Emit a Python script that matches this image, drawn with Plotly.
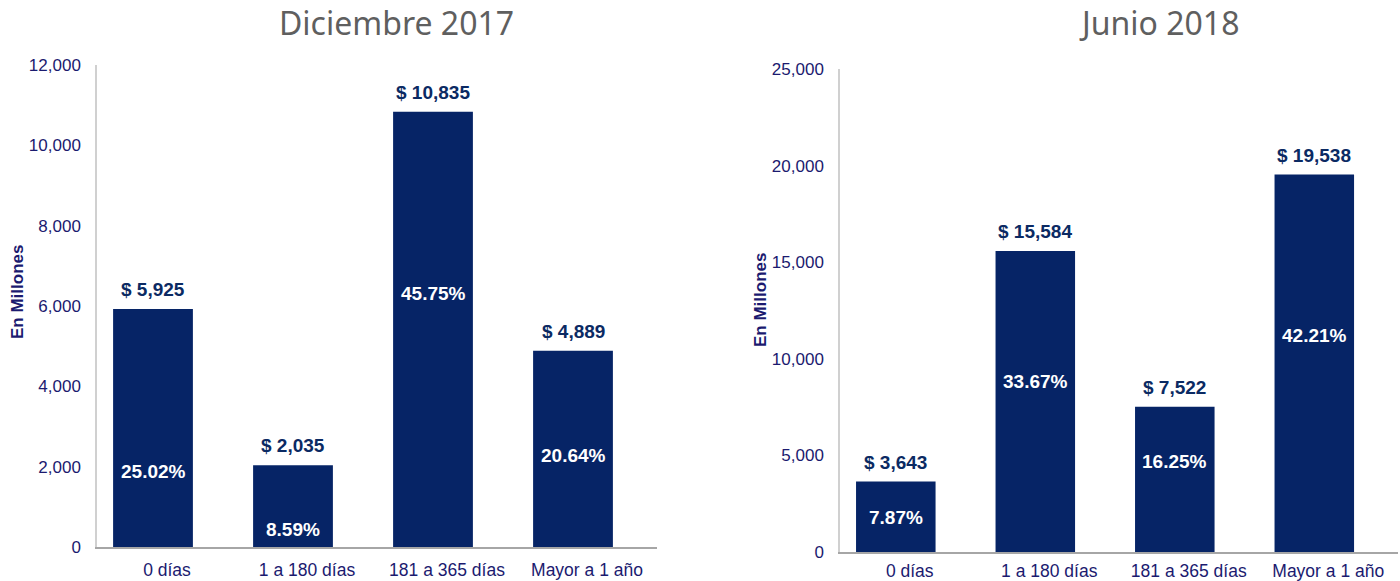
import plotly.graph_objects as go

categories = ["0 días", "1 a 180 días", "181 a 365 días", "Mayor a 1 año"]
dic2017_values = [5925, 2035, 10835, 4889]
dic2017_pct = ["25.02%", "8.59%", "45.75%", "20.64%"]
jun2018_values = [3643, 15584, 7522, 19538]
jun2018_pct = ["7.87%", "33.67%", "16.25%", "42.21%"]
titles = ["Diciembre 2017", "Junio 2018"]
y_title = "En Millones"

# label placement (data units) for the percentage labels inside bars
dic2017_pct_y = [1870, 430, 6300, 2290]
jun2018_pct_y = [1810, 8850, 4710, 11230]

W, H = 1400, 581
BAR = "#062466"
NAVY = "#1b1a6f"
LBL = "#0b2a63"
FONT = "Liberation Sans, Arial"

def px_x(x):
    return x / W

def px_y(y):
    return 1 - y / H

fig = go.Figure()

panels = [
    dict(vals=dic2017_values, pct=dic2017_pct, pcty=dic2017_pct_y, xa="x", ya="y",
         xdom=[97, 657], ydom=[547, 65], rng=[0, 12000], dtick=2000, xticklen=6,
         title_x=396, ytitle_x=17, ytitle_y=292),
    dict(vals=jun2018_values, pct=jun2018_pct, pcty=jun2018_pct_y, xa="x2", ya="y2",
         xdom=[840, 1398], ydom=[552, 69], rng=[0, 25000], dtick=5000, xticklen=2,
         title_x=1159, ytitle_x=760, ytitle_y=300),
]

annotations = []
for i, p in enumerate(panels):
    width = 0.57
    fig.add_trace(go.Bar(
        x=categories, y=p["vals"], xaxis=p["xa"], yaxis=p["ya"],
        marker=dict(color=BAR, line=dict(width=0)),
        width=width, offset=-width / 2 - 0.1,
        showlegend=False, hoverinfo="x+y",
    ))
    xref = p["xa"]
    yref = p["ya"]
    for j, c in enumerate(categories):
        annotations.append(dict(
            x=j - 0.1, y=p["vals"][j], xref=xref, yref=yref,
            text=f"$ {p['vals'][j]:,}", showarrow=False,
            yanchor="bottom", yshift=7,
            font=dict(family=FONT, size=19, color=LBL, weight="bold"),
        ))
        annotations.append(dict(
            x=j - 0.1, y=p["pcty"][j], xref=xref, yref=yref,
            text=p["pct"][j], showarrow=False,
            font=dict(family=FONT, size=19, color="white", weight="bold"),
        ))
    annotations.append(dict(
        x=px_x(p["title_x"]), y=px_y(23), xref="paper", yref="paper",
        text=titles[i], showarrow=False, xanchor="center", yanchor="middle",
        font=dict(family="Noto Sans", size=32, color="#5f5f5f"),
    ))
    annotations.append(dict(
        x=px_x(p["ytitle_x"]), y=px_y(p["ytitle_y"]), xref="paper", yref="paper",
        text=y_title, showarrow=False, textangle=-90, xanchor="center", yanchor="middle",
        font=dict(family=FONT, size=17, color=NAVY, weight="bold"),
    ))

xaxis_common = dict(
    type="category", range=[-0.5, 3.5], showline=True, linecolor="#a6a6a6", linewidth=1.5,
    ticks="outside", tickcolor="rgba(0,0,0,0)", showgrid=False,
    tickfont=dict(family=FONT, size=17.5, color=NAVY),
    fixedrange=True, automargin=False,
)
yaxis_common = dict(
    showline=True, linecolor="#d0d0d0", linewidth=1.5, showgrid=False, zeroline=False,
    ticks="outside", ticklen=11, tickcolor="rgba(0,0,0,0)", tickformat=",",
    tickfont=dict(family=FONT, size=17, color=NAVY),
    fixedrange=True, automargin=False,
)

p0, p1 = panels
fig.update_layout(
    width=W, height=H, margin=dict(l=0, r=0, t=0, b=0, autoexpand=False),
    paper_bgcolor="white", plot_bgcolor="white",
    xaxis=dict(xaxis_common, domain=[px_x(p0["xdom"][0]), px_x(p0["xdom"][1])],
               ticklen=p0["xticklen"], anchor="y"),
    yaxis=dict(yaxis_common, domain=[px_y(p0["ydom"][0]), px_y(p0["ydom"][1])],
               range=p0["rng"], dtick=p0["dtick"], anchor="x"),
    xaxis2=dict(xaxis_common, domain=[px_x(p1["xdom"][0]), px_x(p1["xdom"][1])],
                ticklen=p1["xticklen"], anchor="y2"),
    yaxis2=dict(yaxis_common, domain=[px_y(p1["ydom"][0]), px_y(p1["ydom"][1])],
                range=p1["rng"], dtick=p1["dtick"], anchor="x2"),
    annotations=annotations,
)

fig.write_html("out.html")
